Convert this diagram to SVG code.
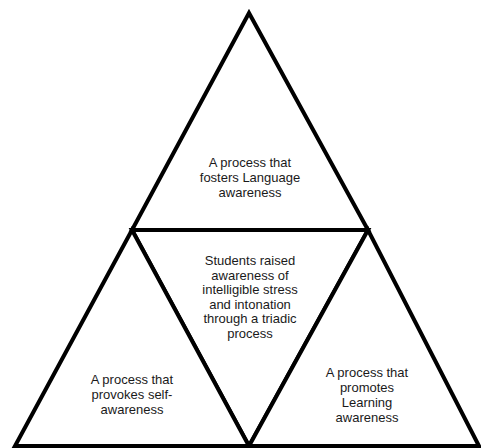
<svg xmlns="http://www.w3.org/2000/svg" width="481" height="448" viewBox="0 0 481 448">
<style>
.tri{fill:#ffffff;stroke:#000;stroke-width:4;stroke-linejoin:miter}
.t{font-family:"Liberation Sans",Arial,sans-serif;font-size:13px;fill:#1a1a1a;text-anchor:middle}
</style>
<rect width="481" height="448" fill="#fff"/>
<g id="connectors"></g>
<g id="top">
<polygon class="tri" points="249,13 132,230 368,230"/>
<text class="t" x="250" y="167">A process that</text>
<text class="t" x="250" y="182">fosters Language</text>
<text class="t" x="250" y="197">awareness</text>
</g>
<g id="center">
<polygon class="tri" points="132,230 368,230 249,446"/>
<text class="t" x="250" y="265">Students raised</text>
<text class="t" x="250" y="279.5">awareness of</text>
<text class="t" x="250" y="294">intelligible stress</text>
<text class="t" x="250" y="308.5">and intonation</text>
<text class="t" x="250" y="323">through a triadic</text>
<text class="t" x="250" y="337.5">process</text>
</g>
<g id="left">
<polygon class="tri" points="132,230 15,446 249,446"/>
<text class="t" x="132" y="383.5">A process that</text>
<text class="t" x="132" y="398.5">provokes self-</text>
<text class="t" x="132" y="413.5">awareness</text>
</g>
<g id="right">
<polygon class="tri" points="368,230 249,446 479,446"/>
<text class="t" x="367" y="376.5">A process that</text>
<text class="t" x="367" y="391.5">promotes</text>
<text class="t" x="367" y="406.5">Learning</text>
<text class="t" x="367" y="421.5">awareness</text>
</g>
</svg>
